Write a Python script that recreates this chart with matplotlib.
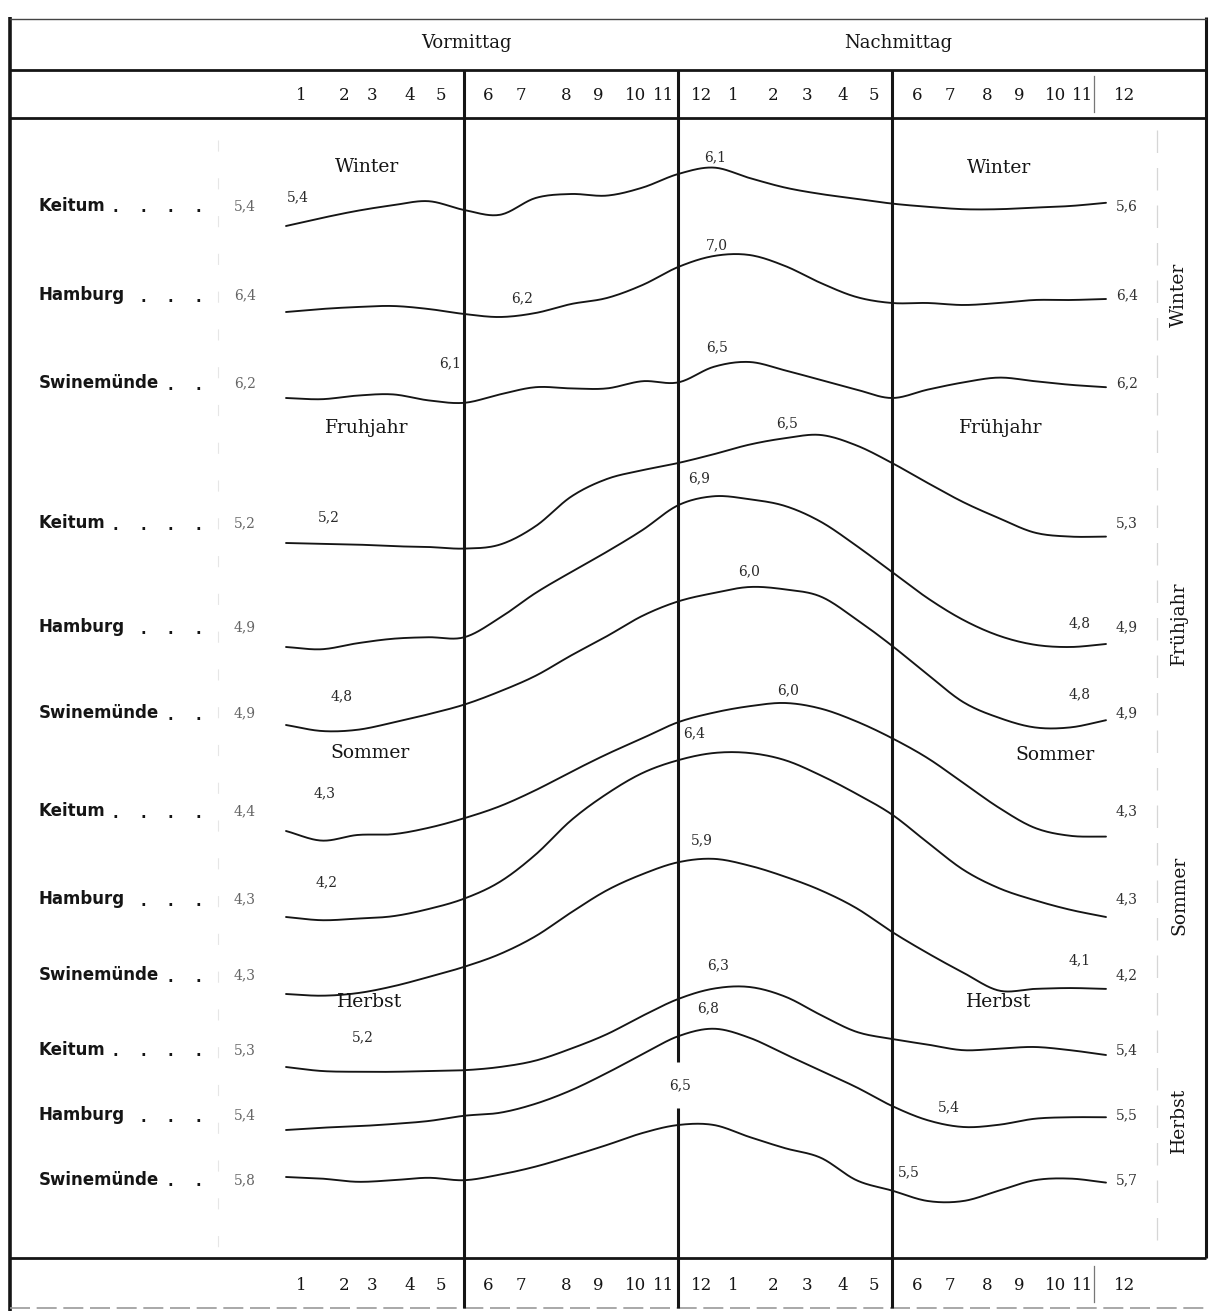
import numpy as np
import matplotlib
matplotlib.use("Agg")
import matplotlib.pyplot as plt

# ---------------- data (mean wind speed, m/s, hourly 1 a.m. ... 12 p.m.) -------------
hours = list(range(1, 25))
seasons = ["Winter", "Frühjahr", "Sommer", "Herbst"]
stations = ["Keitum", "Hamburg", "Swinemünde"]

keitum_winter = [5.40, 5.50, 5.59, 5.66, 5.71, 5.60, 5.54, 5.75, 5.80, 5.78, 5.88, 6.05,
                 6.13, 6.00, 5.88, 5.80, 5.74, 5.68, 5.64, 5.61, 5.61, 5.63, 5.65, 5.69]
hamburg_winter = [6.40, 6.43, 6.45, 6.46, 6.43, 6.38, 6.35, 6.39, 6.48, 6.54, 6.67, 6.85,
                  6.96, 6.97, 6.86, 6.69, 6.55, 6.49, 6.49, 6.47, 6.49, 6.52, 6.52, 6.53]
swinemuende_winter = [6.20, 6.19, 6.22, 6.23, 6.18, 6.16, 6.23, 6.29, 6.28, 6.28, 6.34, 6.33,
                      6.46, 6.50, 6.43, 6.35, 6.27, 6.20, 6.27, 6.33, 6.37, 6.34, 6.31, 6.29]
keitum_fruehjahr = [5.20, 5.19, 5.18, 5.16, 5.15, 5.13, 5.18, 5.41, 5.78, 6.00, 6.11, 6.20,
                    6.31, 6.43, 6.51, 6.55, 6.42, 6.20, 5.95, 5.71, 5.51, 5.33, 5.28, 5.28]
hamburg_fruehjahr = [4.90, 4.87, 4.95, 5.01, 5.03, 5.03, 5.29, 5.62, 5.90, 6.17, 6.46, 6.79,
                     6.91, 6.87, 6.78, 6.57, 6.25, 5.90, 5.55, 5.26, 5.05, 4.93, 4.90, 4.94]
swinemuende_fruehjahr = [4.90, 4.85, 4.86, 4.92, 4.99, 5.07, 5.18, 5.31, 5.48, 5.64, 5.81, 5.93,
                         6.00, 6.05, 6.03, 5.97, 5.78, 5.56, 5.32, 5.09, 4.96, 4.88, 4.88, 4.94]
keitum_sommer = [4.40, 4.28, 4.35, 4.36, 4.44, 4.56, 4.71, 4.91, 5.14, 5.36, 5.56, 5.76,
                 5.88, 5.96, 6.00, 5.93, 5.77, 5.56, 5.31, 5.00, 4.69, 4.44, 4.34, 4.33]
hamburg_sommer = [4.30, 4.26, 4.28, 4.31, 4.40, 4.53, 4.74, 5.08, 5.51, 5.84, 6.10, 6.26,
                  6.35, 6.35, 6.26, 6.07, 5.84, 5.58, 5.23, 4.89, 4.66, 4.51, 4.39, 4.30]
swinemuende_sommer = [4.30, 4.28, 4.31, 4.39, 4.50, 4.62, 4.77, 4.98, 5.26, 5.52, 5.71, 5.85,
                      5.89, 5.81, 5.68, 5.52, 5.31, 5.03, 4.78, 4.55, 4.34, 4.36, 4.37, 4.36]
keitum_herbst = [5.30, 5.25, 5.24, 5.24, 5.25, 5.26, 5.30, 5.38, 5.53, 5.71, 5.94, 6.15,
                 6.28, 6.30, 6.18, 5.95, 5.74, 5.65, 5.58, 5.51, 5.53, 5.55, 5.51, 5.45]
hamburg_herbst = [5.40, 5.43, 5.45, 5.48, 5.52, 5.59, 5.63, 5.75, 5.93, 6.16, 6.41, 6.65,
                  6.75, 6.63, 6.41, 6.19, 5.97, 5.72, 5.53, 5.44, 5.47, 5.55, 5.57, 5.57]
swinemuende_herbst = [5.80, 5.78, 5.74, 5.76, 5.79, 5.76, 5.83, 5.93, 6.06, 6.20, 6.35, 6.45,
                      6.45, 6.30, 6.16, 6.04, 5.76, 5.63, 5.50, 5.50, 5.63, 5.76, 5.78, 5.73]

start_labels = ["5,4", "6,4", "6,2", "5,2", "4,9", "4,9", "4,4", "4,3", "4,3", "5,3", "5,4", "5,8"]
end_labels = ["5,6", "6,4", "6,2", "5,3", "4,9", "4,9", "4,3", "4,3", "4,2", "5,4", "5,5", "5,7"]

top_hour_labels = ["1", "2", "3", "4", "5", "6", "7", "8", "9", "10", "11",
                   "12", "1", "2", "3", "4", "5", "6", "7", "8", "9", "10", "11", "12"]

series = [keitum_winter, hamburg_winter, swinemuende_winter,
          keitum_fruehjahr, hamburg_fruehjahr, swinemuende_fruehjahr,
          keitum_sommer, hamburg_sommer, swinemuende_sommer,
          keitum_herbst, hamburg_herbst, swinemuende_herbst]

# ---------------- layout (pixels of the 1212 x 1311 sheet) ----------------
W, H = 1212, 1311
curve_anchor = [226, 312, 398, 543, 647, 725, 831, 917, 994, 1067, 1130, 1177]
curve_scale = [80, 100, 120, 80, 75, 120, 80, 80, 85, 80, 75, 80]   # px per m/s
label_y = [206, 295, 383, 523, 627, 713, 811, 899, 975, 1050, 1115, 1180]
tick_x = [301, 344, 372, 410, 441, 488, 521, 566, 598, 636, 664,
          702, 733, 773, 807, 843, 874, 917, 950, 987, 1019, 1056, 1083, 1125]
dot_cols = [115, 143, 170, 198]
dot_count = {"Keitum": 4, "Hamburg": 3, "Swinemünde": 2}

inner_notes = [("5,4", 298, 197), ("6,1", 715, 157), ("7,0", 717, 245), ("6,2", 522, 298),
               ("6,5", 717, 347), ("6,1", 450, 363),
               ("6,5", 787, 423), ("6,9", 699, 478), ("5,2", 329, 517), ("6,0", 749, 571),
               ("4,8", 1080, 623), ("4,8", 342, 696), ("6,0", 788, 690), ("4,8", 1080, 694),
               ("6,4", 694, 733), ("4,3", 325, 793), ("5,9", 702, 840), ("4,2", 327, 882),
               ("4,1", 1080, 960),
               ("6,3", 718, 965), ("6,8", 708, 1008), ("5,2", 363, 1037), ("6,5", 680, 1085),
               ("5,4", 949, 1107), ("5,5", 909, 1172)]
season_left = [("Winter", 367, 167), ("Fruhjahr", 367, 428), ("Sommer", 370, 753), ("Herbst", 370, 1002)]
season_right = [("Winter", 999, 168), ("Frühjahr", 1001, 428), ("Sommer", 1055, 755), ("Herbst", 999, 1002)]
season_side = [("Winter", 295), ("Frühjahr", 623), ("Sommer", 895), ("Herbst", 1120)]

SERIF = "DejaVu Serif"
INK = "#151515"

# hour -> pixel: hour 1 at x=286, hour 24 at x=1106
px_per_h = (1106 - 286) / 23.0
x_left = 1 - 286 / px_per_h
x_right = 1 + (W - 286) / px_per_h


def catmull(x, y, n=20):
    P = np.column_stack([np.asarray(x, float), np.asarray(y, float)])
    P = np.vstack([2 * P[0] - P[1], P, 2 * P[-1] - P[-2]])
    t = np.linspace(0, 1, n, endpoint=False)[:, None]
    segs = []
    for i in range(1, len(P) - 2):
        p0, p1, p2, p3 = P[i - 1], P[i], P[i + 1], P[i + 2]
        segs.append(0.5 * (2 * p1 + (-p0 + p2) * t + (2 * p0 - 5 * p1 + 4 * p2 - p3) * t ** 2
                           + (-p0 + 3 * p1 - 3 * p2 + p3) * t ** 3))
    segs.append(P[-2][None, :])
    return np.vstack(segs)


fig = plt.figure(figsize=(W / 100, H / 100), dpi=100)
fig.patch.set_facecolor("white")

lay = fig.add_axes([0, 0, 1, 1])
lay.set_xlim(0, W)
lay.set_ylim(H, 0)
lay.axis("off")

ax = fig.add_axes([0, 0, 1, 1])
ax.set_xlim(x_left, x_right)
ax.set_ylim(H, 0)
ax.axis("off")
ax.patch.set_alpha(0)

# ---------------- frame ----------------
lay.plot([10, 10], [17, H], color=INK, lw=2.6, solid_capstyle="butt")
lay.plot([1206, 1206], [17, 1258], color=INK, lw=2.2, solid_capstyle="butt")
lay.plot([10, 1206], [19, 19], color="#444", lw=1.0)
for yy in (70, 118, 1258):
    lay.plot([10, 1206], [yy, yy], color=INK, lw=2.0, solid_capstyle="butt")
lay.plot([10, 1206], [1308, 1308], color="#999", lw=1.2, ls=(0, (12, 4)))
# thin separators in the hour rows
for (y0, y1) in ((76, 112), (1266, 1302)):
    lay.plot([1094, 1094], [y0, y1], color="#777", lw=0.9)
# faint guide lines
lay.plot([1157, 1157], [130, 1245], color="#d6d6d6", lw=0.9, ls=(0, (18, 12)))
lay.plot([218, 218], [140, 1250], color="#e6e6e6", lw=0.8, ls=(0, (10, 24)))

# ---------------- division lines (6 a.m., noon, 6 p.m.) ----------------
ax.vlines([6, 18], 70, 1308, color=INK, lw=2.2)
ax.vlines(12, 70, 1062, color=INK, lw=2.2)
ax.vlines(12, 1108, 1308, color=INK, lw=2.2)

# ---------------- header ----------------
lay.text(466, 43, "Vormittag", family=SERIF, fontsize=13, ha="center", va="center", color=INK)
lay.text(898, 43, "Nachmittag", family=SERIF, fontsize=13, ha="center", va="center", color=INK)
for lab, xx in zip(top_hour_labels, tick_x):
    lay.text(xx, 95, lab, family=SERIF, fontsize=12, ha="center", va="center", color=INK)
    lay.text(xx, 1286, lab, family=SERIF, fontsize=12, ha="center", va="center", color=INK)

# ---------------- curves ----------------
for i, vals in enumerate(series):
    v = np.asarray(vals)
    ypix = curve_anchor[i] - (v - v[0]) * curve_scale[i]
    pts = catmull(hours, ypix)
    ax.plot(pts[:, 0], pts[:, 1], color=INK, lw=1.35, solid_capstyle="round")

# ---------------- station names and values ----------------
for i in range(12):
    name = stations[i % 3]
    y = label_y[i]
    lay.text(39, y, name, family="DejaVu Sans", fontweight="bold", fontsize=12,
             ha="left", va="center", color=INK)
    for xx in dot_cols[-dot_count[name]:]:
        lay.text(xx, y + 2, ".", family="DejaVu Sans", fontweight="bold", fontsize=11,
                 ha="center", va="center", color=INK)
    lay.text(245, y, start_labels[i], family=SERIF, fontsize=10, ha="center",
             va="center", color="#666")
    lay.text(1127, label_y[i], end_labels[i], family=SERIF, fontsize=10, ha="center",
             va="center", color="#333")

for txt, xx, yy in inner_notes:
    lay.text(xx, yy, txt, family=SERIF, fontsize=10, ha="center", va="center", color="#2a2a2a")

for txt, xx, yy in season_left + season_right:
    lay.text(xx, yy, txt, family=SERIF, fontsize=13.5, ha="center", va="center", color=INK)

for txt, yy in season_side:
    lay.text(1179, yy, txt, family=SERIF, fontsize=13.5, ha="center", va="center",
             rotation=90, color=INK)

fig.savefig("out.png", dpi=100, facecolor="white")
